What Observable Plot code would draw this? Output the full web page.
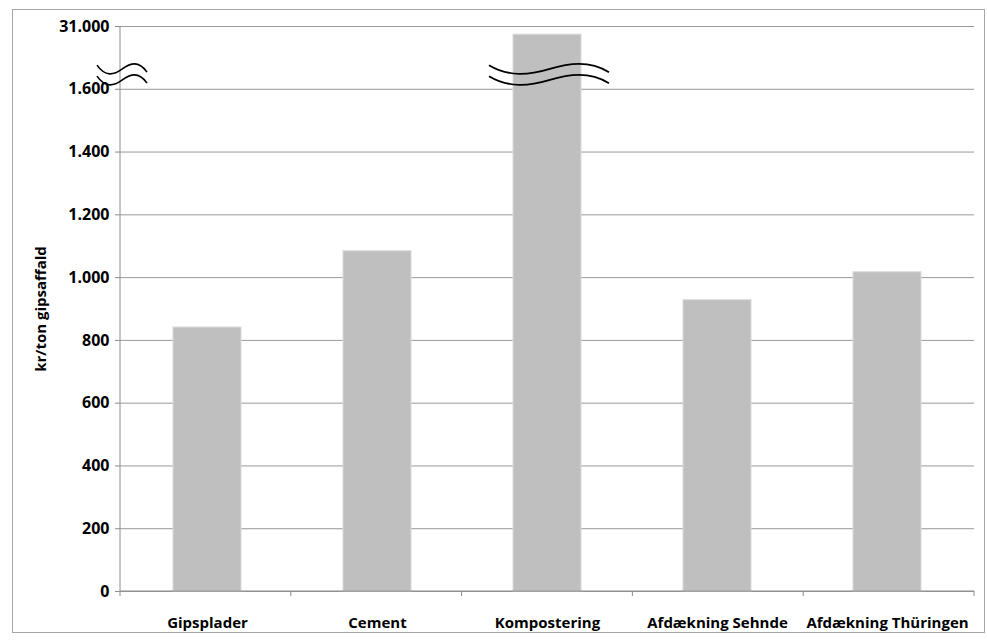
<!DOCTYPE html>
<html>
<head>
<meta charset="utf-8">
<script src="https://cdn.jsdelivr.net/npm/d3@7"></script>
<script src="https://cdn.jsdelivr.net/npm/@observablehq/plot@0.6"></script>
<style>
  html, body { margin: 0; padding: 0; background: #fff; }
  #wrap { position: relative; width: 987px; height: 641px; }
  #frame { position: absolute; left: 12px; top: 9px; width: 973px; height: 624px; box-sizing: border-box; border: 1px solid #a6a6a6; pointer-events: none; }
</style>
</head>
<body>
<div id="wrap"><div id="frame"></div></div>
<script>
// Categories and values (in axis units; the Kompostering bar runs past the axis break toward 31.000)
const categories = ["Gipsplader", "Cement", "Kompostering", "Afdækning Sehnde", "Afdækning Thüringen"];
const values = [841, 1084, 1774, 928, 1017];
const yTicks = [0, 200, 400, 600, 800, 1000, 1200, 1400, 1600, 1800];
const yTickLabels = ["0", "200", "400", "600", "800", "1.000", "1.200", "1.400", "1.600", "31.000"];
const axisTitle = "kr/ton gipsaffald";
const breakAt = 1645;            // axis position of the break marks
const brokenCategory = "Kompostering";

const data = categories.map((c, i) => ({cat: c, val: values[i]}));

// Decorations: axis line, category boundary ticks, break symbols (positioned via scales)
function decorations(index, scales, values_, dims) {
  const g = d3.create("svg:g");
  const x = scales.x, y = scales.y;
  const y0 = y(0), yTop = y(yTicks[yTicks.length - 1]);
  const left = dims.marginLeft, right = dims.width - dims.marginRight;
  const step = (right - left) / categories.length;
  g.append("line").attr("x1", left).attr("x2", left).attr("y1", yTop).attr("y2", y0)
    .attr("stroke", "#8c8c8c");
  g.append("line").attr("x1", left).attr("x2", right).attr("y1", y0).attr("y2", y0)
    .attr("stroke", "#8c8c8c");
  for (let i = 0; i <= categories.length; i++) {
    const bx = left + i * step;
    g.append("line").attr("x1", bx).attr("x2", bx).attr("y1", y0).attr("y2", y0 + 5)
      .attr("stroke", "#8c8c8c");
  }
  const wave = (cx, cy, hw) => {
    const k = hw / 60;
    return `M${cx - 60 * k},${cy - 4} C${cx - 40 * k},${cy + 8} ${cx - 20 * k},${cy + 6} ${cx},${cy}` +
           ` S${cx + 40 * k},${cy - 9} ${cx + 60 * k},${cy + 3}`;
  };
  const by = y(breakAt);
  [-5.5, 5.5].forEach(off => {
    g.append("path").attr("d", wave(left + 2, by + off, 25))
      .attr("fill", "none").attr("stroke", "#000").attr("stroke-width", 1.6);
  });
  const bx = x(brokenCategory) + x.bandwidth() / 2 + 2;
  [-5.5, 5.5].forEach(off => {
    g.append("path").attr("d", wave(bx, by + off, 60))
      .attr("fill", "none").attr("stroke", "#000").attr("stroke-width", 1.8);
  });
  return g.node();
}

const chart = Plot.plot({
  width: 987,
  height: 641,
  marginLeft: 120,
  marginRight: 13,
  marginTop: 26,
  marginBottom: 50,
  style: {fontFamily: "'Open Sans', sans-serif", fontSize: "15px", fontWeight: "bold", color: "#000", background: "transparent", overflow: "visible"},
  x: {domain: categories, paddingInner: 0.6, paddingOuter: 0.3, label: null},
  y: {domain: [0, 1800], label: null},
  marks: [
    Plot.gridY(yTicks, {stroke: "#999", strokeOpacity: 1}),
    Plot.barY(data, {x: "cat", y: "val", fill: "#bfbfbf", stroke: "#d9d9d9", strokeWidth: 1}),
    Plot.axisY(yTicks, {tickFormat: d => yTickLabels[yTicks.indexOf(d)], tickSize: 5, tickPadding: 6, stroke: "#8c8c8c", fill: "#000", fontSize: 16, label: null}),
    Plot.axisX({tickSize: 0, tickPadding: 26, fill: "#000", label: null}),
    Plot.text([axisTitle], {frameAnchor: "left", textAnchor: "middle", rotate: -90, dx: -79, fontSize: 15, fontWeight: "bold", fill: "#000"}),
    decorations
  ]
});
document.getElementById("wrap").appendChild(chart);
</script>
</body>
</html>
